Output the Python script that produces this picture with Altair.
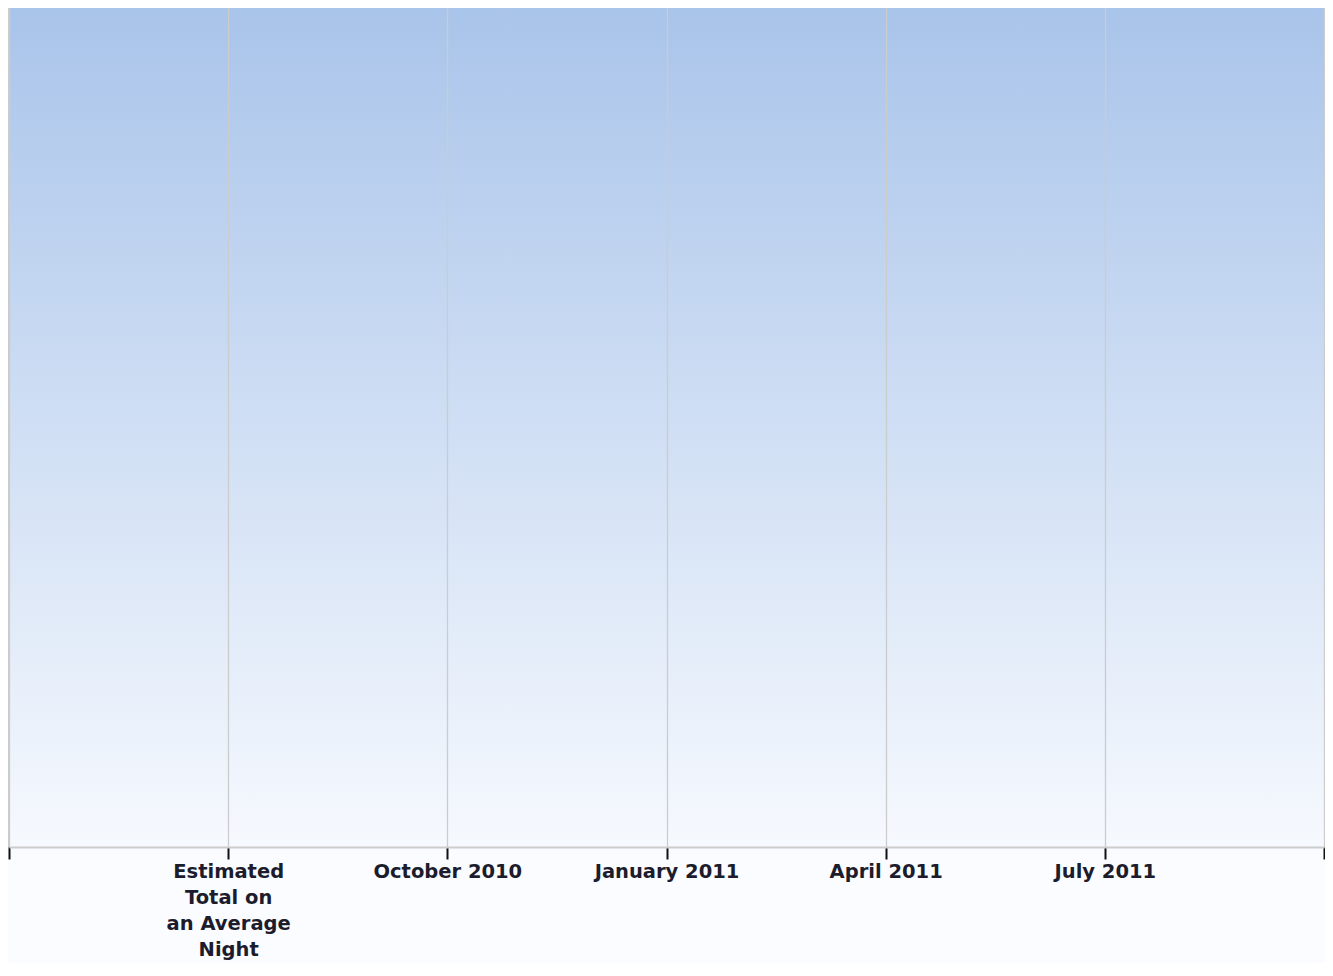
import altair as alt
import pandas as pd
import json

# tick positions along the x axis and their labels (empty at both ends)
positions = [0, 1, 2, 3, 4, 5, 6]
labels = ["", "Estimated\nTotal on\nan Average\nNight", "October 2010", "January 2011",
          "April 2011", "July 2011", ""]

grad_top = "#a9c4ea"
grad_bottom = "#f6f9fe"

df = pd.DataFrame({"x0": [positions[0]], "x1": [positions[-1]]})

label_expr = "split(" + json.dumps(labels) + "[datum.value], '\\n')"

xscale = alt.Scale(domain=[positions[0], positions[-1]], nice=False, zero=False)

chart = alt.Chart(df).mark_rect(
    color=alt.Gradient(
        gradient="linear",
        stops=[alt.GradientStop(color=grad_top, offset=0),
               alt.GradientStop(color=grad_bottom, offset=1)],
        x1=0, x2=0, y1=0, y2=1,
    )
).encode(
    x=alt.X("x0:Q", scale=xscale, title=None,
            axis=alt.Axis(values=positions, labelExpr=label_expr, grid=True,
                          gridColor="#cccccc", gridWidth=1.3,
                          domainColor="#cccccc", domainWidth=2,
                          tickColor="#111111", tickWidth=2, tickSize=12,
                          labelFont="DejaVu Sans", labelFontSize=19.5,
                          labelFontWeight="bold",
                          labelColor="#1c1c2c", labelPadding=3,
                          labelLineHeight=26, labelBaseline="top",
                          labelFlush=False, labelOverlap=False,
                          zindex=1)),
    x2="x1:Q",
).properties(
    width=1315,
    height=842,
    padding={"left": 1, "top": -3, "right": 1, "bottom": 116},
    autosize=alt.AutoSizeParams(type="none"),
    background="#fafcff",
).configure_view(
    stroke="#cccccc", strokeWidth=2
)

chart.save("out.html", embed_options={"renderer": "svg", "actions": False})
